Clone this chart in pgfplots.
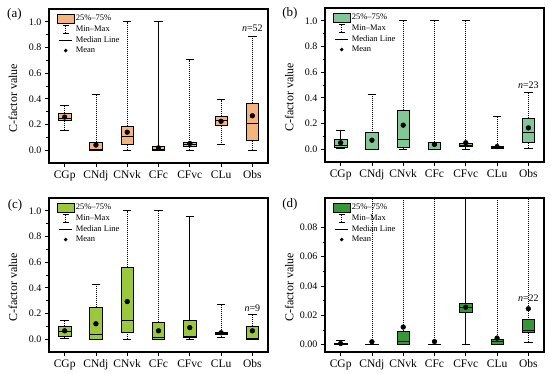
\documentclass[border=0pt]{standalone}
\usepackage{fontspec}
\setmainfont{Liberation Serif}
\usepackage{pgfplots}
\usepackage{pgfplotstable}
\pgfplotsset{compat=1.18}
\usepgfplotslibrary{statistics}

\definecolor{cA}{RGB}{245,180,125}
\definecolor{cB}{RGB}{130,200,150}
\definecolor{cC}{RGB}{155,200,60}
\definecolor{cD}{RGB}{55,150,55}

\pgfplotstableread{
pos lw lq med uq uw mean
1 0.156 0.229 0.245 0.289 0.346 0.258
2 0.0 0.0 0.003 0.060 0.432 0.040
3 0.0 0.047 0.107 0.185 1.0 0.140
4 0.0 0.0 0.005 0.028 1.0 0.018
5 0.0 0.030 0.044 0.065 0.706 0.052
6 0.042 0.190 0.232 0.263 0.393 0.225
7 0.0 0.075 0.206 0.367 0.888 0.268
}\dataA

\pgfplotstableread{
pos lw lq med uq uw mean
1 0.010 0.016 0.029 0.075 0.146 0.050
2 0.0 0.0 0.002 0.128 0.427 0.070
3 0.0 0.018 0.078 0.305 1.0 0.187
4 0.0 0.0 0.002 0.055 1.0 0.037
5 0.0 0.020 0.030 0.042 1.0 0.050
6 0.005 0.010 0.015 0.022 0.258 0.020
7 0.010 0.057 0.127 0.240 0.440 0.166
}\dataB

\pgfplotstableread{
pos lw lq med uq uw mean
1 0.010 0.026 0.057 0.100 0.148 0.065
2 0.0 0.0 0.036 0.250 0.430 0.120
3 0.0 0.055 0.148 0.560 1.0 0.293
4 0.0 0.0 0.010 0.132 1.0 0.065
5 0.0 0.015 0.020 0.145 0.957 0.090
6 0.015 0.040 0.045 0.055 0.272 0.050
7 0.0 0.0 0.008 0.104 0.197 0.065
}\dataC

\pgfplotstableread{
pos lw lq med uq uw mean
1 0.0 0.0 0.0005 0.0010 0.0030 0.0008
2 0.0 0.0 0.0002 0.0005 1.0 0.0020
3 0.0 0.0 0.0023 0.0093 1.0 0.0120
4 0.0 0.0 0.0002 0.0005 1.0 0.0021
5 0.0 0.0223 0.0253 0.0280 1.0 0.0255
6 0.0 0.0005 0.0020 0.0040 1.0 0.0045
7 0.0015 0.0082 0.0096 0.0170 1.0 0.0245
}\dataD

\tikzset{whisk/.style={solid, line width=0.75pt, dash pattern=on 1.2pt off 0.8pt}}

\pgfplotsset{
  cbox/.style={
    solid, black, line width=0.6pt,
    boxplot/draw direction=y,
    boxplot/box extend=0.4,
    boxplot/whisker extend=0.27,
    boxplot/every box/.style={fill=#1, draw=black, line width=0.6pt},
    boxplot/every median/.style={draw=black, line width=0.8pt},
    boxplot/draw/lower whisker/.code={
      \draw[whisk] (boxplot box cs:\pgfplotsboxplotvalue{lower whisker},0.5) -- (boxplot box cs:\pgfplotsboxplotvalue{lower quartile},0.5);
      \draw[solid, line width=0.7pt] (boxplot whisker cs:\pgfplotsboxplotvalue{lower whisker},0) -- (boxplot whisker cs:\pgfplotsboxplotvalue{lower whisker},1);
    },
    boxplot/draw/upper whisker/.code={
      \draw[whisk] (boxplot box cs:\pgfplotsboxplotvalue{upper quartile},0.5) -- (boxplot box cs:\pgfplotsboxplotvalue{upper whisker},0.5);
      \draw[solid, line width=0.7pt] (boxplot whisker cs:\pgfplotsboxplotvalue{upper whisker},0) -- (boxplot whisker cs:\pgfplotsboxplotvalue{upper whisker},1);
    },
  },
  panel/.style={
    scale only axis, width=219pt, height=154pt,
    xmin=0.5, xmax=7.5, xtick={1,2,3,4,5,6,7},
    xticklabels={CGp,CNdj,CNvk,CFc,CFvc,CLu,Obs},
    tick align=outside, tick pos=left,
    major tick length=4pt, minor tick length=2.5pt,
    every tick/.append style={black, line width=0.8pt},
    axis line style={line width=1.2pt, black},
    x tick label style={font=\fontsize{11.5}{12}\selectfont},
    y tick label style={font=\fontsize{10}{11}\selectfont},
    /pgf/number format/assume math mode=true,
    minor y tick num=1,
    clip mode=individual,
    ylabel={C-factor value},
    ylabel style={font=\fontsize{12}{13}\selectfont, at={(rel axis cs:-0.164,0.42)}, anchor=center},
    legend style={at={(rel axis cs:0.035,0.97)}, anchor=north west, draw=none, fill=none,
      inner sep=0pt, font=\fontsize{8.5}{9}\selectfont, row sep=0.8pt,
      nodes={inner sep=1.3pt}},
    legend cell align=left,
  },
  ylone/.style={ymin=-0.1, ymax=1.1, ytick={0,0.2,0.4,0.6,0.8,1.0},
    yticklabel style={/pgf/number format/.cd, fixed, fixed zerofill, precision=1}},
}

\newcommand{\onebox}[3]{% table, row, colour
  \pgfplotstablegetelem{#2}{lw}\of#1\let\vlw\pgfplotsretval
  \pgfplotstablegetelem{#2}{lq}\of#1\let\vlq\pgfplotsretval
  \pgfplotstablegetelem{#2}{med}\of#1\let\vmed\pgfplotsretval
  \pgfplotstablegetelem{#2}{uq}\of#1\let\vuq\pgfplotsretval
  \pgfplotstablegetelem{#2}{uw}\of#1\let\vuw\pgfplotsretval
  \pgfplotstablegetelem{#2}{pos}\of#1\let\vpos\pgfplotsretval
  \edef\doit{\noexpand\addplot[cbox=#3, forget plot,
    boxplot prepared={draw position=\vpos, lower whisker=\vlw, lower quartile=\vlq,
      median=\vmed, upper quartile=\vuq, upper whisker=\vuw}] coordinates {};}%
  \doit
}

\newcommand{\boxes}[2]{%
  \pgfplotsinvokeforeach{0,...,6}{\onebox{#1}{##1}{#2}}
  \addplot[forget plot, only marks, mark=*, mark size=2.4pt, black] table[x=pos, y=mean] {#1};
  \addlegendimage{legend image code/.code={\draw[fill=#2, draw=black, line width=0.6pt] (0pt,-4.5pt) rectangle (17pt,4.5pt);}}
  \addlegendentry{25\%--75\%}
  \addlegendimage{legend image code/.code={\path[draw=none, fill=none] (0pt,0pt) -- (17pt,0pt);
      \draw[solid, black, line width=0.7pt] (5.5pt,-4pt) -- (11.5pt,-4pt) (5.5pt,4pt) -- (11.5pt,4pt);
      \draw[whisk, black] (8.5pt,-4pt) -- (8.5pt,4pt);}}
  \addlegendentry{Min--Max}
  \addlegendimage{legend image code/.code={\draw[solid, black, line width=0.8pt] (2pt,0pt) -- (15pt,0pt);}}
  \addlegendentry{Median Line}
  \addlegendimage{legend image code/.code={\path[draw=none, fill=none] (0pt,0pt) -- (17pt,0pt); \fill[black, draw=none] (8.5pt,0pt) circle (1.9pt);}}
  \addlegendentry{Mean}
}

\begin{document}
\begin{tikzpicture}
\path[use as bounding box] (0pt,0pt) rectangle (550pt,-373pt);

\begin{axis}[panel, ylone, at={(49pt,-9pt)}, anchor=north west]
\boxes{\dataA}{cA}
\node[font=\fontsize{10}{11}\selectfont] at (axis cs:7,0.95) {\textit{n}=52};
\node[font=\fontsize{13}{14}\selectfont] at (rel axis cs:-0.158,0.964) {(a)};
\end{axis}

\begin{axis}[panel, ylone, at={(325pt,-8pt)}, anchor=north west]
\boxes{\dataB}{cB}
\node[font=\fontsize{10}{11}\selectfont] at (axis cs:7,0.50) {\textit{n}=23};
\node[font=\fontsize{13}{14}\selectfont] at (rel axis cs:-0.16,0.968) {(b)};
\end{axis}

\begin{axis}[panel, ylone, at={(49pt,-198pt)}, anchor=north west]
\boxes{\dataC}{cC}
\node[font=\fontsize{10}{11}\selectfont] at (axis cs:7,0.24) {\textit{n}=9};
\node[font=\fontsize{13}{14}\selectfont] at (rel axis cs:-0.155,0.955) {(c)};
\end{axis}

\begin{axis}[panel, at={(325pt,-198pt)}, anchor=north west,
  ymin=-0.005, ymax=0.1, ytick={0,0.02,0.04,0.06,0.08},
  yticklabel style={/pgf/number format/.cd, fixed, fixed zerofill, precision=2}]
\boxes{\dataD}{cD}
\node[font=\fontsize{10}{11}\selectfont] at (axis cs:7,0.032) {\textit{n}=22};
\node[font=\fontsize{13}{14}\selectfont] at (rel axis cs:-0.16,0.96) {(d)};
\end{axis}
\end{tikzpicture}
\end{document}
